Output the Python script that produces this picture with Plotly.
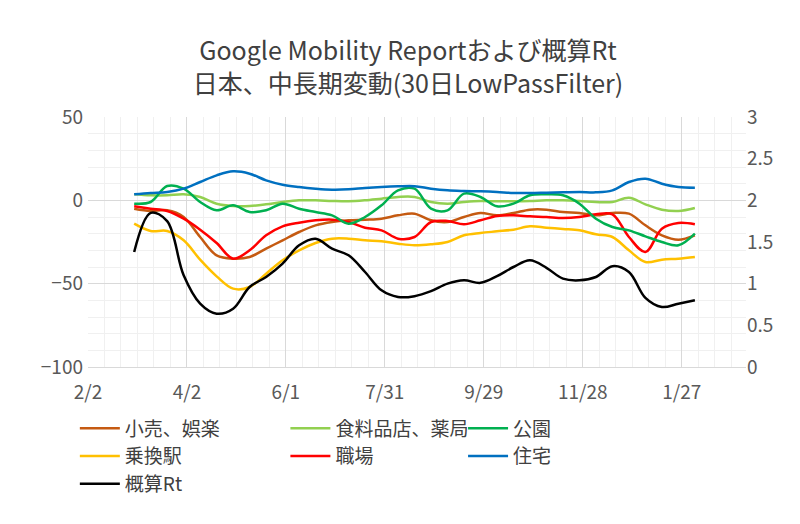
import pandas as pd
import plotly.graph_objects as go

dates = pd.date_range("2020-03-01", periods=35, freq="10D")

retail = [-5, -6.4, -6, -10, -22, -33, -35, -34, -29, -24, -19, -15, -13, -12, -11.6, -11, -9, -8,
          -12, -13, -10, -7.6, -9, -7.6, -5.6, -5.6, -7, -7.6, -9, -7.6, -8, -15, -21, -23.6, -21]
grocery = [3.6, 3, 3, 3.6, 2, -2, -3.4, -3.4, -2.4, -1, 0, 0, -0.4, -0.6, 0, 1, 2, 2,
           -1, -2, -1, -0.4, -0.6, -0.6, -0.4, 0, 0, -0.4, -1, -1, 1.6, -2.4, -5.6, -6.4, -4.6]
parks = [-2, -1, 8.6, 7, -1, -6, -3, -7, -6, -2, -5, -7, -9, -14, -10, -3, 6, 7,
         -5, -6, 4, 2, -3.6, -2, 3, 3.6, 3, -2, -11, -16, -18, -21.6, -25, -27, -20]
transit = [-14, -18.4, -18.4, -24, -35.6, -45.6, -53, -52, -44, -36, -30, -25.6, -23, -23, -24, -24.6, -26, -27,
           -26.4, -25, -21, -19.6, -18.6, -17.6, -15.6, -16.4, -17.2, -18, -20.4, -22, -30, -37, -35.6, -35, -34]
workplace = [-3.6, -5, -6.4, -11, -17.6, -25.6, -35, -30, -21, -15.6, -13.4, -12, -11.6, -13, -16.4, -18, -23, -22,
             -13, -12.4, -14.4, -12, -9.4, -9, -9.6, -10, -10.6, -10, -8.4, -8.4, -22, -31, -17, -13.6, -14.4]
residential = [3.6, 4.4, 5, 7, 11, 15, 17.4, 16, 12, 9.4, 8, 7, 6.4, 6.6, 7.4, 8, 8.4, 8.5,
               7, 6, 5.6, 5.4, 5, 4.4, 4.4, 4.6, 4.8, 5, 4.8, 6, 11, 13, 10, 8, 7.6]
rt = [1.38, 1.85, 1.75, 1.1, 0.76, 0.64, 0.7, 0.96, 1.08, 1.24, 1.46, 1.54, 1.42, 1.34, 1.14, 0.92, 0.84, 0.85,
      0.91, 1.0, 1.04, 1.01, 1.09, 1.2, 1.28, 1.19, 1.06, 1.04, 1.08, 1.21, 1.14, 0.83, 0.72, 0.76, 0.8]

series = [
    ("小売、娯楽", retail, "#C55A11", "legend"),
    ("乗換駅", transit, "#FFC000", "legend"),
    ("食料品店、薬局", grocery, "#92D050", "legend2"),
    ("職場", workplace, "#FF0000", "legend2"),
    ("公園", parks, "#00B050", "legend3"),
    ("住宅", residential, "#0070C0", "legend3"),
]

fig = go.Figure()
for name, vals, col, lg in series:
    fig.add_trace(go.Scatter(x=dates, y=vals, name=name, mode="lines", legend=lg,
                             line=dict(color=col, width=2.5, shape="spline")))
fig.add_trace(go.Scatter(x=dates[:len(rt)], y=rt, name="概算Rt", mode="lines", yaxis="y2", legend="legend",
                         line=dict(color="black", width=2.5, shape="spline")))

font = "Noto Sans CJK JP"
leg = dict(orientation="v", yanchor="top", y=-0.17, xanchor="left", bgcolor="rgba(0,0,0,0)",
           font=dict(size=19, color="#404040", family=font), tracegroupgap=0, itemwidth=40)
fig.update_layout(
    width=800, height=524,
    margin=dict(l=80, r=62, t=109, b=165),
    paper_bgcolor="white", plot_bgcolor="white",
    font=dict(family=font, color="#595959"),
    title=dict(text="Google Mobility Reportおよび概算Rt<br>日本、中長期変動(30日LowPassFilter)",
               x=0.5, xanchor="center", yref="container", y=0.9, yanchor="middle",
               font=dict(size=25, color="#404040", family=font)),
    legend=dict(leg, x=-0.02),
    legend2=dict(leg, x=0.3),
    legend3=dict(leg, x=0.57),
    xaxis=dict(type="date", range=["2020-02-02", "2021-03-07"], tick0="2020-02-02", dtick=60 * 86400000,
               tickformat="%-m/%-d", tickfont=dict(size=19), showgrid=True, gridcolor="#D9D9D9",
               minor=dict(dtick=10 * 86400000, tick0="2020-02-02", showgrid=True, gridcolor="#F0F0F0"),
               showline=True, linecolor="#D9D9D9", zeroline=False, ticks="", ticklabelstandoff=8),
    yaxis=dict(range=[-100, 50], dtick=50, tickfont=dict(size=19), showgrid=True, gridcolor="#D9D9D9",
               minor=dict(dtick=10, showgrid=True, gridcolor="#F0F0F0"), zeroline=False, ticks="",
               ticklabelstandoff=4),
    yaxis2=dict(range=[0, 3], dtick=0.5, overlaying="y", side="right", tickfont=dict(size=19),
                showgrid=False, zeroline=False, tickformat=".1~f"),
)
fig.write_html("out.html")
